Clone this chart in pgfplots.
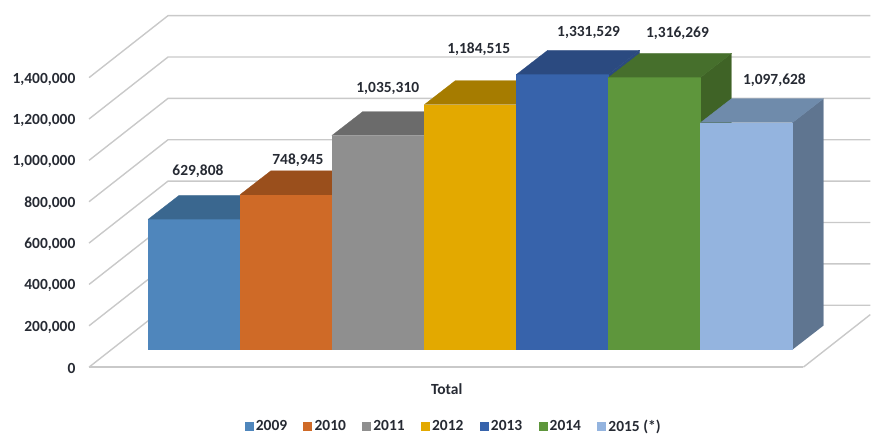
\documentclass[border=0pt]{standalone}
\usepackage{pgfplots}
\pgfplotsset{compat=1.18}
\usepackage{fontspec}
\setmainfont{Carlito}
\newcommand{\cf}{\fontsize{11.6}{14}\selectfont\bfseries}
\definecolor{txt}{HTML}{262A33}
\definecolor{gridc}{HTML}{C9C9C9}
\definecolor{fa}{HTML}{4F86BC}\definecolor{ta}{HTML}{3A678F}
\definecolor{fb}{HTML}{CF6A27}\definecolor{tb}{HTML}{9A4F1C}
\definecolor{fc}{HTML}{8F8F8F}\definecolor{tc}{HTML}{6B6B6B}
\definecolor{fd}{HTML}{E3A900}\definecolor{td}{HTML}{A67C00}
\definecolor{fe}{HTML}{3763AB}\definecolor{te}{HTML}{2B4A80}
\definecolor{ff}{HTML}{5E963C}\definecolor{tf}{HTML}{466F2C}\definecolor{sf}{HTML}{3F6326}
\definecolor{fg}{HTML}{94B4DF}\definecolor{tg}{HTML}{6F8BAB}\definecolor{sg}{HTML}{5F7590}
\pgfplotsset{
  base/.style={scale only axis, width=653.25pt, height=326.25pt, at={(0,0)}, anchor=south west,
    xmin=0, xmax=871, axis line style={draw=none}, major tick length=0pt, xtick=\empty, clip=false},
  face/.style={fill=#1, draw=#1, line width=0.2pt, forget plot, sharp plot},
  fr/.style={ybar, bar shift=0pt, bar width=92.6, draw=none, fill=#1, legend image code/.code={\fill[#1] (0pt,-3.4pt) rectangle (6.8pt,3.4pt);}},
  gl/.style={draw=gridc, line width=1.05pt, forget plot, sharp plot},
}
\begin{document}
\begin{tikzpicture}
% frame: value 0 of this axis is the front edge of the floor
\begin{axis}[base, ymin=-326086, ymax=1775356,
  ytick={0,200000,400000,600000,800000,1000000,1200000,1400000},
  scaled y ticks=false,
  y tick label style={font=\cf, text=txt, anchor=east, xshift=60pt, yshift=-1.1pt, /pgf/number format/fixed, /pgf/number format/1000 sep={,}, /pgf/number format/assume math mode=true}]
\addplot[gl] coordinates {(804,0) (871,254105)};
\addplot[gl] coordinates {(89,0) (804,0)};
\addplot[gl] coordinates {(89,0) (168,299516) (871,299516)};
\addplot[gl] coordinates {(89,200000) (168,499516) (871,499516)};
\addplot[gl] coordinates {(89,400000) (168,699516) (871,699516)};
\addplot[gl] coordinates {(89,600000) (168,899516) (871,899516)};
\addplot[gl] coordinates {(89,800000) (168,1099516) (871,1099516)};
\addplot[gl] coordinates {(89,1000000) (168,1299516) (871,1299516)};
\addplot[gl] coordinates {(89,1200000) (168,1499516) (871,1499516)};
\addplot[gl] coordinates {(89,1400000) (168,1699516) (871,1699516)};
\end{axis}
% bars: value 0 of this axis is the front foot of the bars
\begin{axis}[base, ymin=-410627, ymax=1690815, ytick=\empty,
  legend columns=7,
  legend style={draw=none, fill=none, font=\cf, text=txt, at={(axis cs:454,-372000)}, anchor=center,
    /tikz/every even column/.append style={column sep=10.6pt}, inner sep=0pt, nodes={inner xsep=1.6pt}}]
% 2009
\addplot[fr=fa] coordinates {(194,629808)};
\addlegendentry{2009}
\addplot[face=ta] coordinates {(148,629808) (179,745750) (271,745750) (240,629808)};
% 2010
\addplot[fr=fb] coordinates {(286,748945)};
\addlegendentry{2010}
\addplot[face=tb] coordinates {(240,748945) (271,864887) (363,864887) (332,748945)};
% 2011
\addplot[fr=fc] coordinates {(378.25,1035310)};
\addlegendentry{2011}
\addplot[face=tc] coordinates {(332,1035310) (363,1151252) (455.5,1151252) (424.5,1035310)};
% 2012
\addplot[fr=fd] coordinates {(470.75,1184515)};
\addlegendentry{2012}
\addplot[face=td] coordinates {(424.5,1184515) (455.5,1300457) (548,1300457) (517,1184515)};
% 2013
\addplot[face=te] coordinates {(609,0) (609,1331529) (640,1447471) (640,115942)};
\addplot[fr=fe] coordinates {(563,1331529)};
\addlegendentry{2013}
\addplot[face=te] coordinates {(517,1331529) (548,1447471) (640,1447471) (609,1331529)};
% 2014
\addplot[face=sf] coordinates {(701,0) (701,1316269) (732,1432211) (732,115942)};
\addplot[fr=ff] coordinates {(655,1316269)};
\addlegendentry{2014}
\addplot[face=tf] coordinates {(609,1316269) (640,1432211) (732,1432211) (701,1316269)};
% 2015
\addplot[face=sg] coordinates {(793,0) (793,1097628) (824,1213570) (824,115942)};
\addplot[fr=fg] coordinates {(747.2,1097628)};
\addlegendentry{2015 (*)}
\addplot[face=tg] coordinates {(701,1097628) (732,1213570) (824,1213570) (793,1097628)};
\node[font=\cf, text=txt] at (axis cs:198,862500) {629,808};
\node[font=\cf, text=txt] at (axis cs:298,915000) {748,945};
\node[font=\cf, text=txt] at (axis cs:388,1263600) {1,035,310};
\node[font=\cf, text=txt] at (axis cs:479,1454000) {1,184,515};
\node[font=\cf, text=txt] at (axis cs:589,1534000) {1,331,529};
\node[font=\cf, text=txt] at (axis cs:678,1531000) {1,316,269};
\node[font=\cf, text=txt] at (axis cs:775,1302000) {1,097,628};
\node[font=\cf, text=txt] at (axis cs:447,-192000) {Total};
\end{axis}
\end{tikzpicture}
\end{document}
